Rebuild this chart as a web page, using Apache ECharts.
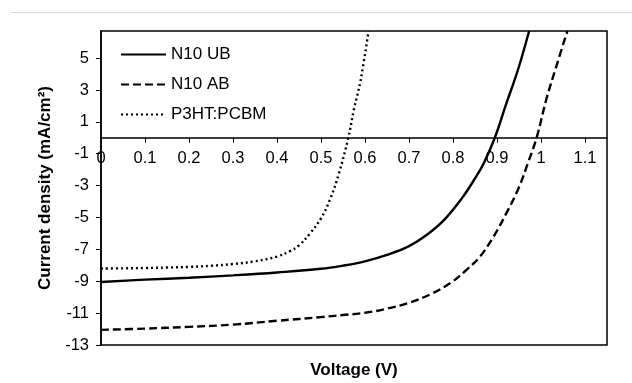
<!DOCTYPE html>
<html>
<head>
<meta charset="utf-8">
<script src="https://cdn.jsdelivr.net/npm/echarts@6/dist/echarts.min.js"></script>
<style>
html,body{margin:0;padding:0;background:#fff;}
#c{width:632px;height:383px;}
</style>
</head>
<body>
<div id="c"></div>
<script>
// ---- Data ----
var seriesNames = ['N10 UB', 'N10 AB', 'P3HT:PCBM'];

var ubVoltage = [0, 0.1, 0.2, 0.3, 0.4, 0.5, 0.55, 0.6, 0.65, 0.7, 0.74, 0.78, 0.82, 0.85, 0.87, 0.895, 0.92, 0.948, 0.973];
var ubCurrent = [-9.05, -8.9, -8.78, -8.63, -8.45, -8.22, -8.02, -7.75, -7.35, -6.8, -6.1, -5.15, -3.8, -2.55, -1.6, 0, 2.05, 4.3, 6.7];

var abVoltage = [0, 0.1, 0.2, 0.3, 0.4, 0.5, 0.55, 0.6, 0.65, 0.7, 0.75, 0.8, 0.83, 0.86, 0.89, 0.92, 0.95, 0.97, 0.99, 1.012, 1.035, 1.06];
var abCurrent = [-12.05, -11.97, -11.86, -11.72, -11.48, -11.25, -11.12, -10.98, -10.72, -10.35, -9.8, -9.0, -8.3, -7.5, -6.3, -4.8, -3.1, -1.6, 0, 2.4, 4.5, 6.7];

var p3Voltage = [0, 0.05, 0.1, 0.15, 0.2, 0.25, 0.3, 0.35, 0.4, 0.43, 0.45, 0.475, 0.5, 0.52, 0.54, 0.562, 0.575, 0.59, 0.608];
var p3Current = [-8.2, -8.19, -8.17, -8.14, -8.1, -8.03, -7.92, -7.75, -7.45, -7.1, -6.75, -6.0, -5.05, -3.9, -2.3, 0, 1.8, 3.6, 6.7];

var xTicks = [0, 0.1, 0.2, 0.3, 0.4, 0.5, 0.6, 0.7, 0.8, 0.9, 1, 1.1];
var yTicks = [-13, -11, -9, -7, -5, -3, -1, 1, 3, 5];
var xTitle = 'Voltage (V)';
var yTitle = 'Current density (mA/cm²)';

function pairs(xs, ys) { return xs.map(function (x, i) { return [x, ys[i]]; }); }

var FONT = 'Liberation Sans';
var chart = echarts.init(document.getElementById('c'), null, {renderer: 'canvas'});

function lineSeries(name, data, type) {
  return {
    name: name, type: 'line', data: data,
    showSymbol: false, symbol: 'none', smooth: 0.4,
    lineStyle: {color: '#000', width: 2.4, type: type, cap: 'butt'},
    itemStyle: {color: '#000'},
    emphasis: {disabled: true}, silent: true, animation: false
  };
}

chart.setOption({
  animation: false,
  backgroundColor: '#fff',
  graphic: [{
    type: 'line', shape: {x1: 11, y1: 12.5, x2: 632, y2: 12.5},
    style: {stroke: '#d6d6d6', lineWidth: 1}, silent: true
  }, {
    type: 'text', x: 354, y: 370,
    style: {text: xTitle, fill: '#000', font: 'bold 17px "Liberation Sans"', textAlign: 'center', textVerticalAlign: 'middle'},
    silent: true
  }],
  grid: {left: 101, top: 31, right: 25, bottom: 38, show: true,
         borderColor: '#000', borderWidth: 1.5, backgroundColor: 'transparent'},
  legend: {
    orient: 'vertical', left: 120, top: 46, padding: 0,
    itemWidth: 45, itemHeight: 14, itemGap: 13,
    data: seriesNames,
    itemStyle: {opacity: 0},
    textStyle: {fontFamily: FONT, fontSize: 17, color: '#000'},
    selectedMode: false
  },
  xAxis: {
    type: 'value', min: 0, max: 1.15, interval: 0.1,
    position: 'bottom', offset: 0,
    axisLine: {onZero: false, lineStyle: {color: '#000', width: 1.5}},
    axisTick: {show: true, inside: false, length: 5, lineStyle: {color: '#000', width: 1}},
    axisLabel: {
      margin: 12, fontFamily: FONT, fontSize: 16.5, color: '#000',
      showMaxLabel: false,
      formatter: function (v) {
        var r = Math.round(v * 10) / 10;
        return Math.abs(v - r) < 1e-6 && xTicks.indexOf(r) >= 0 ? String(r) : '';
      }
    },
    splitLine: {show: false}
  },
  yAxis: {
    type: 'value', min: -13, max: 6.7, interval: 2,
    axisLine: {show: true, onZero: false, lineStyle: {color: '#000', width: 1.5}},
    axisTick: {show: true, length: 5, lineStyle: {color: '#000', width: 1}},
    axisLabel: {
      margin: 12, fontFamily: FONT, fontSize: 16.5, color: '#000',
      showMaxLabel: false,
      formatter: function (v) { return yTicks.indexOf(Math.round(v)) >= 0 && Math.abs(v - Math.round(v)) < 1e-6 ? String(v) : ''; }
    },
    splitLine: {show: false},
    name: yTitle, nameLocation: 'middle', nameGap: 47,
    nameTextStyle: {fontFamily: FONT, fontSize: 17, fontWeight: 'bold', color: '#000'}
  },
  series: [
    lineSeries(seriesNames[0], pairs(ubVoltage, ubCurrent), 'solid'),
    lineSeries(seriesNames[1], pairs(abVoltage, abCurrent), [8, 4]),
    lineSeries(seriesNames[2], pairs(p3Voltage, p3Current), [2, 3])
  ]
});

// Move the x axis (line, ticks and labels) up to where J = 0, as in the reference.
var zeroY = chart.convertToPixel({yAxisIndex: 0}, 0);
var bottomY = chart.convertToPixel({yAxisIndex: 0}, -13);
chart.setOption({xAxis: {offset: zeroY - bottomY}});
</script>
</body>
</html>
